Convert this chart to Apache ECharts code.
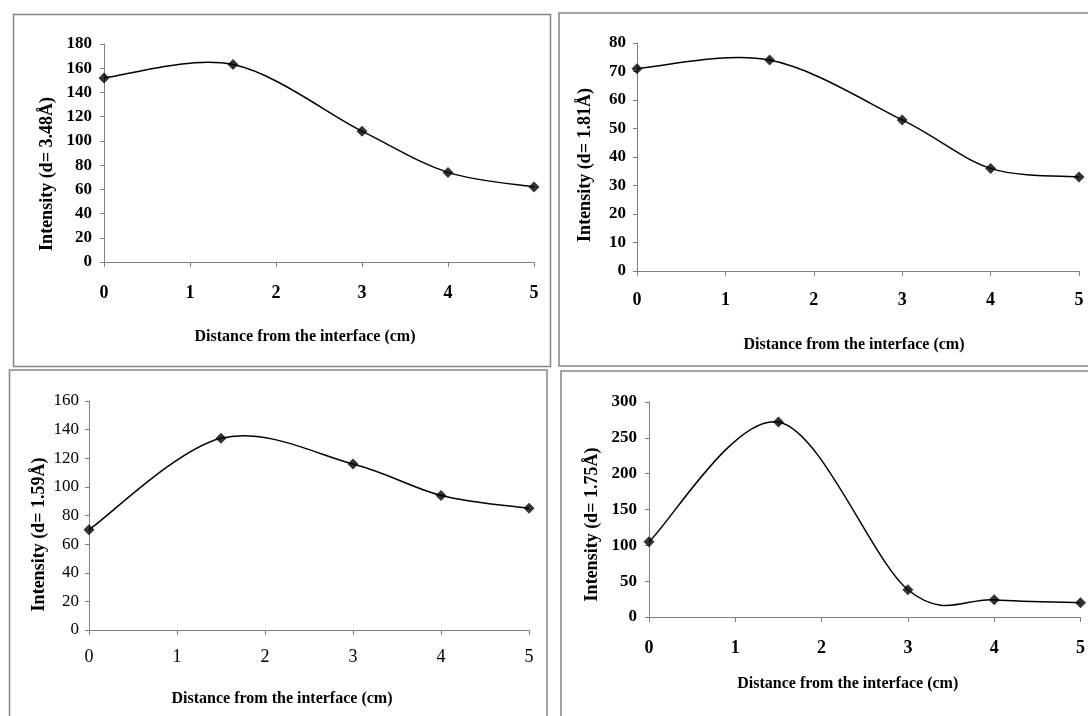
<!DOCTYPE html>
<html>
<head>
<meta charset="utf-8">
<script src="https://cdn.jsdelivr.net/npm/echarts@6/dist/echarts.min.js"></script>
<style>
html,body{margin:0;padding:0;background:#fff;}
#chart{width:1088px;height:716px;}
</style>
</head>
<body>
<div id="chart"></div>
<script>
// ---- data ----
const distance = [0, 1.5, 3, 4, 5];
const xTicks = [0, 1, 2, 3, 4, 5];
const int348 = [152, 163, 108, 74, 62];
const int181 = [71, 74, 53, 36, 33];
const int159 = [70, 134, 116, 94, 85];
const int175 = [105, 272, 38, 24, 20];
const xTitle = 'Distance from the interface (cm)';
const yTitles = ['Intensity (d= 3.48\u00C5)', 'Intensity (d= 1.81\u00C5)', 'Intensity (d= 1.59\u00C5)', 'Intensity (d= 1.75\u00C5)'];
const yRanges = [[0, 180, 20], [0, 80, 10], [0, 160, 20], [0, 300, 50]];

const FONT = '"Liberation Serif","Times New Roman",serif';
const AXIS_COLOR = '#808080';

const panels = [
  {grid: {left: 104, top: 44, width: 430, height: 218}, data: int348, bold: true,
   xLabelMargin: 22, yLabelMargin: 12, xNameGap: 67, xNamePad: 28, yNameGap: 48, yNamePad: 42},
  {grid: {left: 637, top: 43, width: 442, height: 228}, data: int181, bold: true,
   xLabelMargin: 20.5, yLabelMargin: 11, xNameGap: 66, xNamePad: 8, yNameGap: 43, yNamePad: 16},
  {grid: {left: 89, top: 401, width: 440, height: 229}, data: int159, bold: false,
   xLabelMargin: 18.5, yLabelMargin: 10, xNameGap: 61, xNamePad: 54, yNameGap: 41, yNamePad: 38},
  {grid: {left: 649, top: 402, width: 435, height: 215}, data: int175, bold: true,
   xLabelMargin: 22.5, yLabelMargin: 12, xNameGap: 59, xNamePad: 34, yNameGap: 48, yNamePad: 30}
];

// Smooth (Catmull-Rom style) curve through the data points, in pixel space
function smoothPath(pts) {
  let d = 'M' + pts[0][0] + ' ' + pts[0][1];
  const n = pts.length;
  for (let i = 0; i < n - 1; i++) {
    const p0 = pts[i], p1 = pts[i + 1];
    const pPrev = i > 0 ? pts[i - 1] : p0;
    const pNext = i + 2 < n ? pts[i + 2] : p1;
    const c1 = [p0[0] + (p1[0] - pPrev[0]) / 6, p0[1] + (p1[1] - pPrev[1]) / 6];
    const c2 = [p1[0] - (pNext[0] - p0[0]) / 6, p1[1] - (pNext[1] - p0[1]) / 6];
    d += ' C' + c1[0] + ' ' + c1[1] + ' ' + c2[0] + ' ' + c2[1] + ' ' + p1[0] + ' ' + p1[1];
  }
  return d;
}

const grids = [], xAxes = [], yAxes = [], series = [];
panels.forEach((p, i) => {
  const fw = p.bold ? 'bold' : 'normal';
  grids.push(Object.assign({containLabel: false}, p.grid));
  xAxes.push({
    type: 'value', gridIndex: i, min: xTicks[0], max: xTicks[xTicks.length - 1], interval: 1,
    name: xTitle, nameLocation: 'middle', nameGap: p.xNameGap,
    nameTextStyle: {fontFamily: FONT, fontWeight: 'bold', fontSize: 16, color: '#000', padding: [0, p.xNamePad, 0, 0]},
    axisLine: {show: true, lineStyle: {color: AXIS_COLOR, width: 1}},
    axisTick: {show: true, inside: false, length: 5, lineStyle: {color: AXIS_COLOR}},
    axisLabel: {fontFamily: FONT, fontWeight: fw, fontSize: 18, color: '#000', margin: p.xLabelMargin},
    splitLine: {show: false}
  });
  yAxes.push({
    type: 'value', gridIndex: i, min: yRanges[i][0], max: yRanges[i][1], interval: yRanges[i][2],
    name: yTitles[i], nameLocation: 'middle', nameRotate: 90, nameGap: p.yNameGap,
    nameTextStyle: {fontFamily: FONT, fontWeight: 'bold', fontSize: 18, color: '#000', padding: [0, p.yNamePad, 0, 0]},
    axisLine: {show: true, lineStyle: {color: AXIS_COLOR, width: 1}},
    axisTick: {show: true, inside: false, length: 4, lineStyle: {color: AXIS_COLOR}},
    axisLabel: {fontFamily: FONT, fontWeight: fw, fontSize: 17, color: '#000', margin: p.yLabelMargin},
    splitLine: {show: false}
  });
  const pairs = distance.map((d, k) => [d, p.data[k]]);
  // smooth connecting line
  series.push({
    type: 'custom', xAxisIndex: i, yAxisIndex: i,
    data: pairs,
    silent: true,
    animation: false,
    z: 2,
    renderItem: function (params, api) {
      if (params.dataIndex !== 0) return null;
      const pts = pairs.map(pr => api.coord(pr));
      return {
        type: 'path',
        shape: {pathData: smoothPath(pts)},
        style: {fill: null, stroke: '#000', lineWidth: 1.5}
      };
    }
  });
  // diamond markers
  series.push({
    type: 'scatter', xAxisIndex: i, yAxisIndex: i,
    data: pairs,
    symbol: 'diamond', symbolSize: 11,
    itemStyle: {color: '#000'},
    z: 3,
    animation: false
  });
});

const border = (x, y, w, h) => ({
  type: 'rect', silent: true, z: -10,
  shape: {x: x, y: y, width: w, height: h},
  style: {fill: null, stroke: '#858585', lineWidth: 1.5}
});

const chart = echarts.init(document.getElementById('chart'), null, {renderer: 'canvas'});
chart.setOption({
  backgroundColor: '#fff',
  animation: false,
  grid: grids,
  xAxis: xAxes,
  yAxis: yAxes,
  series: series,
  graphic: [
    border(13.5, 14.5, 537, 352),
    border(559, 13, 540, 353),
    border(9.5, 370, 537.5, 360),
    border(561, 371, 540, 360)
  ]
});
</script>
</body>
</html>
